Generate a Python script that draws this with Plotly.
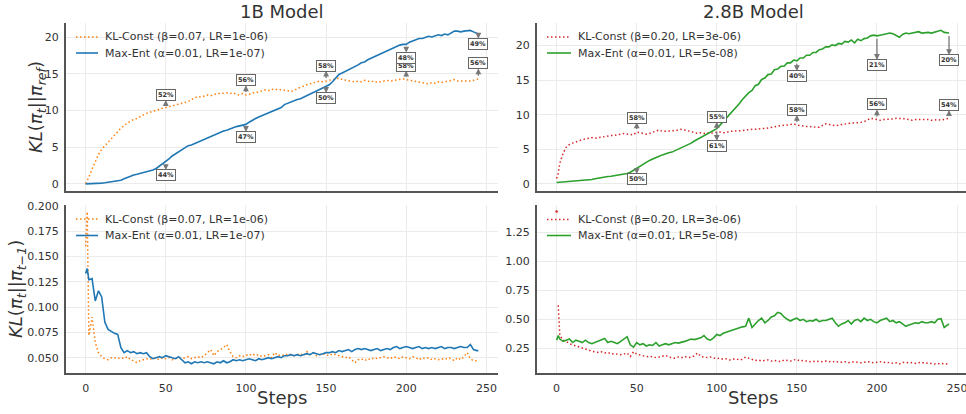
import plotly.graph_objects as go

# ---------------- data ----------------
STEPS = [0, 1] + list(range(2, 245, 2)) + [245]

# 1B model, KL(pi_t || pi_ref)
KL_REF_1B_CONST = [
    0.05, 0.4, 0.9, 2.0, 3.0, 4.0, 4.7, 5.2, 5.7, 6.2,
    6.7, 7.1, 7.6, 7.9, 8.3, 8.5, 8.8, 8.9, 9.2, 9.4,
    9.6, 9.8, 9.9, 10.0, 10.2, 10.3, 10.4, 10.5, 10.6, 10.8,
    10.8, 11.0, 11.1, 11.2, 11.5, 11.7, 11.9, 11.8, 12.0, 12.1,
    12.0, 12.2, 12.3, 12.3, 12.4, 12.4, 12.3, 12.4, 12.2, 12.1,
    12.3, 12.1, 12.2, 12.4, 12.4, 12.5, 12.6, 12.8, 12.7, 12.9,
    12.8, 12.9, 12.8, 12.8, 12.7, 12.6, 12.7, 13.0, 13.1, 13.3,
    13.5, 13.6, 13.8, 13.8, 14.0, 13.9, 14.0, 14.1, 14.3, 14.3,
    14.4, 14.2, 14.1, 14.0, 13.9, 13.9, 14.0, 13.9, 14.1, 14.0,
    13.9, 14.0, 13.8, 13.9, 14.0, 14.1, 14.0, 14.1, 14.2, 14.2,
    14.3, 14.2, 14.1, 14.0, 14.0, 13.9, 13.8, 13.7, 13.6, 13.8,
    13.7, 13.9, 13.8, 13.9, 14.0, 14.1, 14.2, 14.0, 14.0, 13.9,
    13.9, 14.0, 14.1, 14.2, 14.3,
]
KL_REF_1B_MAXENT = [
    0.0, 0.0, 0.0, 0.02, 0.05, 0.07, 0.1, 0.15, 0.2, 0.3,
    0.38, 0.45, 0.5, 0.7, 0.9, 1.05, 1.2, 1.3, 1.4, 1.5,
    1.6, 1.75, 1.9, 2.1, 2.4, 2.7, 3.05, 3.4, 3.8, 4.1,
    4.4, 4.7, 5.0, 5.2, 5.3, 5.5, 5.7, 5.8, 6.0, 6.2,
    6.4, 6.6, 6.8, 7.0, 7.2, 7.3, 7.5, 7.7, 7.8, 7.9,
    8.0, 8.1, 8.4, 8.7, 8.9, 9.1, 9.3, 9.5, 9.6, 9.8,
    10.0, 10.2, 10.4, 10.8, 11.0, 11.2, 11.3, 11.5, 11.6, 11.8,
    12.0, 12.2, 12.4, 12.6, 12.8, 13.0, 13.2, 13.5, 13.9, 14.4,
    14.9, 15.1, 15.3, 15.6, 15.8, 16.0, 16.2, 16.5, 16.6, 16.9,
    17.1, 17.3, 17.5, 17.8, 17.9, 18.2, 18.4, 18.6, 18.8, 18.9,
    19.0, 19.0, 19.3, 19.5, 19.7, 19.8, 19.8, 19.9, 20.1, 20.0,
    20.2, 20.3, 20.2, 20.4, 20.3, 20.5, 20.8, 20.8, 20.7, 20.8,
    20.8, 20.9, 20.7, 20.5, 20.4,
]

# 2.8B model, KL(pi_t || pi_ref)
KL_REF_28B_CONST = [
    0.8, 1.5, 3.0, 4.4, 5.3, 5.7, 5.9, 6.1, 6.2, 6.4,
    6.5, 6.6, 6.7, 6.6, 6.7, 6.8, 6.8, 6.9, 7.0, 7.0,
    7.1, 7.2, 7.3, 7.2, 7.1, 7.1, 7.5, 7.4, 7.2, 7.2,
    7.3, 7.5, 7.6, 7.8, 7.6, 7.6, 7.7, 7.6, 7.7, 7.8,
    7.9, 7.8, 7.7, 7.6, 7.5, 7.3, 7.4, 7.3, 7.4, 7.3,
    7.4, 7.5, 7.5, 7.4, 7.4, 7.6, 7.6, 7.7, 7.7, 7.7,
    7.8, 7.9, 7.9, 7.9, 8.0, 8.0, 8.0, 8.1, 8.2, 8.3,
    8.4, 8.4, 8.5, 8.5, 8.6, 8.7, 8.5, 8.4, 8.3, 8.3,
    8.3, 8.2, 8.2, 8.2, 8.4, 8.7, 8.6, 8.5, 8.4, 8.5,
    8.6, 8.6, 8.7, 8.8, 8.8, 8.8, 8.9, 9.0, 9.3, 9.5,
    9.4, 9.3, 9.2, 9.3, 9.3, 9.4, 9.4, 9.5, 9.5, 9.5,
    9.4, 9.3, 9.2, 9.3, 9.3, 9.4, 9.3, 9.3, 9.2, 9.3,
    9.3, 9.2, 9.3, 9.5, 9.5,
]
KL_REF_28B_MAXENT = [
    0.2, 0.22, 0.25, 0.28, 0.3, 0.33, 0.35, 0.38, 0.4, 0.43,
    0.47, 0.55, 0.65, 0.75, 0.85, 0.95, 1.02, 1.08, 1.12, 1.18,
    1.22, 1.3, 1.4, 1.5, 1.7, 2.0, 2.3, 2.6, 2.9, 3.1,
    3.4, 3.6, 3.85, 4.0, 4.2, 4.4, 4.5, 4.6, 4.8, 5.0,
    5.2, 5.4, 5.7, 5.9, 6.2, 6.45, 6.7, 6.95, 7.2, 7.4,
    7.7, 8.0, 8.5, 9.0, 9.5, 10.0, 10.6, 11.1, 11.6, 12.2,
    12.7, 13.2, 13.5, 14.2, 14.4, 15.1, 15.3, 15.8, 15.9, 16.5,
    16.6, 17.0, 17.0, 17.5, 17.5, 17.9, 17.8, 18.2, 18.2, 18.6,
    18.6, 19.0, 19.0, 19.4, 19.5, 19.8, 19.8, 20.1, 20.0, 20.3,
    20.2, 20.6, 20.5, 20.8, 20.4, 20.9, 20.7, 21.0, 21.1, 21.4,
    21.5, 21.4, 21.5, 21.6, 21.6, 21.8, 21.7, 21.5, 21.2, 21.6,
    21.8, 21.7, 21.8, 21.9, 22.0, 21.8, 21.9, 21.9, 21.8, 21.9,
    22.0, 22.2, 21.9, 21.8, 21.8,
]

# 1B model, KL(pi_t || pi_{t-1})
KL_PREV_1B_CONST = [
    0.160, 0.194, 0.072, 0.090, 0.065, 0.055, 0.051, 0.049, 0.048, 0.050,
    0.050, 0.049, 0.050, 0.049, 0.051, 0.048, 0.047, 0.045, 0.047, 0.048,
    0.049, 0.048, 0.050, 0.049, 0.048, 0.050, 0.049, 0.050, 0.048, 0.049,
    0.050, 0.049, 0.050, 0.051, 0.049, 0.050, 0.051, 0.050, 0.052, 0.055,
    0.058, 0.052, 0.056, 0.058, 0.060, 0.063, 0.056, 0.051, 0.050, 0.052,
    0.051, 0.053, 0.052, 0.054, 0.052, 0.053, 0.051, 0.052, 0.053, 0.050,
    0.055, 0.052, 0.053, 0.052, 0.054, 0.053, 0.052, 0.053, 0.054, 0.052,
    0.056, 0.053, 0.055, 0.052, 0.053, 0.054, 0.053, 0.052, 0.054, 0.053,
    0.052, 0.051, 0.050, 0.051, 0.048, 0.045, 0.048, 0.049, 0.047, 0.049,
    0.048, 0.050, 0.049, 0.050, 0.051, 0.050, 0.049, 0.051, 0.050, 0.049,
    0.051, 0.050, 0.049, 0.051, 0.050, 0.048, 0.050, 0.049, 0.050, 0.048,
    0.049, 0.048, 0.049, 0.048, 0.050, 0.049, 0.047, 0.050, 0.048, 0.051,
    0.055, 0.049, 0.047, 0.047, 0.047,
]
KL_PREV_1B_MAXENT = [
    0.133, 0.138, 0.127, 0.128, 0.106, 0.116, 0.110, 0.085, 0.078, 0.076,
    0.074, 0.073, 0.060, 0.055, 0.057, 0.055, 0.056, 0.054, 0.055, 0.054,
    0.055, 0.051, 0.049, 0.050, 0.051, 0.050, 0.052, 0.051, 0.050, 0.049,
    0.051, 0.048, 0.045, 0.046, 0.044, 0.046, 0.045, 0.046, 0.045, 0.046,
    0.045, 0.044, 0.046, 0.045, 0.047, 0.045, 0.046, 0.048, 0.047, 0.048,
    0.047, 0.048, 0.049, 0.048, 0.047, 0.049, 0.048, 0.049, 0.050, 0.049,
    0.050, 0.051, 0.050, 0.052, 0.052, 0.053, 0.052, 0.053, 0.052, 0.053,
    0.054, 0.053, 0.055, 0.054, 0.053, 0.054, 0.055, 0.055, 0.056, 0.055,
    0.057, 0.056, 0.057, 0.058, 0.056, 0.058, 0.059, 0.058, 0.059, 0.058,
    0.057, 0.058, 0.059, 0.057, 0.058, 0.059, 0.058, 0.060, 0.061, 0.059,
    0.060, 0.061, 0.060, 0.059, 0.060, 0.061, 0.059, 0.060, 0.059, 0.060,
    0.059, 0.060, 0.061, 0.059, 0.060, 0.060, 0.059, 0.060, 0.061, 0.060,
    0.060, 0.063, 0.058, 0.057, 0.057,
]

# 2.8B model, KL(pi_t || pi_{t-1})
KL_PREV_28B_CONST = [
    1.43, 0.62, 0.36, 0.32, 0.31, 0.29, 0.28, 0.27, 0.26, 0.25,
    0.24, 0.23, 0.225, 0.22, 0.215, 0.22, 0.21, 0.215, 0.20, 0.205,
    0.20, 0.195, 0.20, 0.21, 0.18, 0.22, 0.20, 0.19, 0.185, 0.18,
    0.175, 0.18, 0.17, 0.175, 0.18, 0.19, 0.175, 0.17, 0.165, 0.175,
    0.17, 0.18, 0.17, 0.175, 0.185, 0.21, 0.18, 0.175, 0.17, 0.175,
    0.165, 0.16, 0.165, 0.155, 0.16, 0.15, 0.155, 0.16, 0.15, 0.155,
    0.175, 0.165, 0.15, 0.145, 0.15, 0.14, 0.145, 0.15, 0.14, 0.145,
    0.14, 0.135, 0.15, 0.145, 0.14, 0.15, 0.155, 0.14, 0.145, 0.14,
    0.135, 0.14, 0.135, 0.14, 0.135, 0.14, 0.135, 0.14, 0.13, 0.135,
    0.13, 0.135, 0.125, 0.13, 0.135, 0.13, 0.125, 0.13, 0.135, 0.13,
    0.125, 0.13, 0.135, 0.13, 0.125, 0.13, 0.12, 0.125, 0.115, 0.13,
    0.125, 0.13, 0.125, 0.12, 0.125, 0.13, 0.12, 0.125, 0.12, 0.115,
    0.12, 0.115, 0.12, 0.115, 0.12,
]
KL_PREV_28B_MAXENT = [
    0.32, 0.36, 0.33, 0.31, 0.32, 0.33, 0.30, 0.32, 0.31, 0.30,
    0.32, 0.30, 0.29, 0.30, 0.31, 0.32, 0.335, 0.30, 0.31, 0.30,
    0.29, 0.31, 0.33, 0.35, 0.28, 0.26, 0.30, 0.28, 0.29, 0.27,
    0.28, 0.275, 0.30, 0.27, 0.28, 0.29, 0.28, 0.29, 0.30, 0.295,
    0.30, 0.31, 0.32, 0.33, 0.325, 0.33, 0.34, 0.36, 0.33, 0.32,
    0.34, 0.37, 0.36, 0.38, 0.39, 0.40, 0.41, 0.42, 0.43, 0.435,
    0.44, 0.51, 0.43, 0.46, 0.49, 0.51, 0.47, 0.49, 0.52, 0.53,
    0.56, 0.55, 0.52, 0.50, 0.485, 0.50, 0.51, 0.49, 0.50, 0.48,
    0.49, 0.485, 0.50, 0.48, 0.49, 0.49, 0.50, 0.51, 0.47, 0.44,
    0.46, 0.47, 0.49, 0.46, 0.49, 0.50, 0.48, 0.51, 0.49, 0.50,
    0.48, 0.47, 0.49, 0.50, 0.51, 0.48, 0.49, 0.47, 0.48, 0.46,
    0.44, 0.45, 0.46, 0.47, 0.465, 0.48, 0.47, 0.47, 0.48, 0.47,
    0.50, 0.505, 0.43, 0.45, 0.46,
]

LABEL_1B_CONST = "KL-Const (β=0.07, LR=1e-06)"
LABEL_1B_MAXENT = "Max-Ent (α=0.01, LR=1e-07)"
LABEL_28B_CONST = "KL-Const (β=0.20, LR=3e-06)"
LABEL_28B_MAXENT = "Max-Ent (α=0.01, LR=5e-08)"

# win-rate call-outs at these steps: label and the level of its box
ANN_STEPS = [50, 100, 150, 200, 245]
CALLOUT_1B_CONST = ["52%", "56%", "58%", "58%", "56%"]
CALLOUT_1B_CONST_BOX = [12.1, 14.1, 16.1, 16.1, 16.4]
CALLOUT_1B_MAXENT = ["44%", "47%", "50%", "48%", "49%"]
CALLOUT_1B_MAXENT_BOX = [1.2, 6.4, 11.7, 17.2, 19.1]
CALLOUT_28B_CONST = ["58%", "55%", "58%", "56%", "54%"]
CALLOUT_28B_CONST_BOX = [9.6, 9.7, 10.7, 11.5, 11.4]
CALLOUT_28B_MAXENT = ["50%", "61%", "40%", "21%", "20%"]
CALLOUT_28B_MAXENT_BOX = [0.7, 5.5, 15.6, 17.2, 17.9]

# ---------------- styling ----------------
BLUE = "#1f77b4"
ORANGE = "#ff7f0e"
GREEN = "#2ca02c"
RED = "#d62728"
FONT = "DejaVu Sans"
TXT = "#333333"
DOT = "1.5px,2.5px"
W, H = 966, 414

def px_x(p):
    return p / W

def px_y(p):
    return 1 - p / H

fig = go.Figure()

def add_line(x, y, color, name, xa, ya, dotted):
    fig.add_trace(go.Scatter(
        x=x, y=y, mode="lines", name=name,
        line=dict(color=color, width=1.5 if dotted else 1.6,
                  dash=DOT if dotted else "solid"),
        xaxis=xa, yaxis=ya, showlegend=False,
    ))

add_line(STEPS, KL_REF_1B_CONST, ORANGE, LABEL_1B_CONST, "x", "y", True)
add_line(STEPS, KL_REF_1B_MAXENT, BLUE, LABEL_1B_MAXENT, "x", "y", False)
add_line(STEPS, KL_REF_28B_CONST, RED, LABEL_28B_CONST, "x2", "y2", True)
add_line(STEPS, KL_REF_28B_MAXENT, GREEN, LABEL_28B_MAXENT, "x2", "y2", False)
add_line(STEPS, KL_PREV_1B_CONST, ORANGE, LABEL_1B_CONST, "x3", "y3", True)
add_line(STEPS, KL_PREV_1B_MAXENT, BLUE, LABEL_1B_MAXENT, "x3", "y3", False)
# the first 2.8B KL-Const point stands apart from the rest of its dotted line
add_line(STEPS[1:], KL_PREV_28B_CONST[1:], RED, LABEL_28B_CONST, "x4", "y4", True)
fig.add_trace(go.Scatter(
    x=STEPS[:1], y=KL_PREV_28B_CONST[:1], mode="markers", name=LABEL_28B_CONST,
    marker=dict(color=RED, size=2.5), xaxis="x4", yaxis="y4", showlegend=False,
))
add_line(STEPS, KL_PREV_28B_MAXENT, GREEN, LABEL_28B_MAXENT, "x4", "y4", False)

annotations = []
shapes = []

def callouts(series, labels, boxes, xref, yref):
    for step, lab, box in zip(ANN_STEPS, labels, boxes):
        cv = series[STEPS.index(step)]
        annotations.append(dict(
            x=step, y=box, xref=xref, yref=yref, ax=step, ay=cv,
            axref=xref, ayref=yref, text="", showarrow=True,
            arrowhead=2, arrowsize=0.9, arrowwidth=1.3, arrowcolor="#777777",
            standoff=5, startstandoff=1.5,
        ))
        annotations.append(dict(
            x=step, y=box, xref=xref, yref=yref, text="<b>" + lab + "</b>",
            showarrow=False, font=dict(family=FONT, size=6.5, color="#333333"),
            bgcolor="white", bordercolor="#666666", borderwidth=1, borderpad=1,
            xanchor="center", yanchor="middle",
        ))

callouts(KL_REF_1B_CONST, CALLOUT_1B_CONST, CALLOUT_1B_CONST_BOX, "x", "y")
callouts(KL_REF_1B_MAXENT, CALLOUT_1B_MAXENT, CALLOUT_1B_MAXENT_BOX, "x", "y")
callouts(KL_REF_28B_CONST, CALLOUT_28B_CONST, CALLOUT_28B_CONST_BOX, "x2", "y2")
callouts(KL_REF_28B_MAXENT, CALLOUT_28B_MAXENT, CALLOUT_28B_MAXENT_BOX, "x2", "y2")

def text(t, xp, yp, size, angle=0, xanchor="center"):
    annotations.append(dict(
        text=t, x=px_x(xp), y=px_y(yp), xref="paper", yref="paper",
        showarrow=False, textangle=angle, xanchor=xanchor, yanchor="middle",
        font=dict(family=FONT, size=size, color=TXT),
    ))

text("1B Model", 282, 11, 18)
text("2.8B Model", 753, 11, 18)
text("Steps", 282, 397, 18)
text("Steps", 753, 397, 18)
text("<i>KL</i>(<i>π<sub>t</sub></i>||<i>π<sub>ref</sub></i>)", 37, 107, 18, -90)
text("<i>KL</i>(<i>π<sub>t</sub></i>||<i>π<sub>t−1</sub></i>)", 17, 289, 18, -90)

def legend_entry(x0, x1, yp, color, dotted, label):
    shapes.append(dict(
        type="line", xref="paper", yref="paper",
        x0=px_x(x0), x1=px_x(x1), y0=px_y(yp), y1=px_y(yp),
        line=dict(color=color, width=1.5 if dotted else 1.6,
                  dash=DOT if dotted else "solid"),
    ))
    text(label, x1 + 5, yp, 11, xanchor="left")

legend_entry(76, 98, 37, ORANGE, True, LABEL_1B_CONST)
legend_entry(76, 98, 53, BLUE, False, LABEL_1B_MAXENT)
legend_entry(547, 571, 37, RED, True, LABEL_28B_CONST)
legend_entry(547, 571, 53, GREEN, False, LABEL_28B_MAXENT)
legend_entry(76, 98, 219, ORANGE, True, LABEL_1B_CONST)
legend_entry(76, 98, 235.5, BLUE, False, LABEL_1B_MAXENT)
legend_entry(547, 571, 219.5, RED, True, LABEL_28B_CONST)
legend_entry(547, 571, 235.5, GREEN, False, LABEL_28B_MAXENT)

XL = [px_x(66), px_x(498)]
XR = [px_x(537), 1.0]
YT = [px_y(191), px_y(22.7)]
YB = [px_y(372.7), px_y(205)]

def xaxis(domain, rng, anchor, labels):
    return dict(domain=domain, range=rng, anchor=anchor,
                tickvals=[0, 50, 100, 150, 200, 250], showticklabels=labels,
                ticklabeloverflow="allow",
                showgrid=True, gridcolor="#ebebeb", gridwidth=1, zeroline=False,
                showline=True, linecolor="#555555", linewidth=2.2,
                ticks="outside", ticklen=4, tickcolor="rgba(0,0,0,0)",
                tickfont=dict(family=FONT, size=11, color=TXT))

def yaxis(domain, rng, anchor, tickvals, fmt):
    return dict(domain=domain, range=rng, anchor=anchor, tickvals=tickvals,
                tickformat=fmt, showgrid=True, gridcolor="#ebebeb", gridwidth=1,
                zeroline=False, showline=True, linecolor="#555555", linewidth=2.2,
                ticks="outside", ticklen=3, tickcolor="rgba(0,0,0,0)",
                tickfont=dict(family=FONT, size=11, color=TXT))

fig.update_layout(
    width=W, height=H, margin=dict(l=0, r=0, t=0, b=0, autoexpand=False),
    paper_bgcolor="white", plot_bgcolor="white", showlegend=False,
    xaxis=xaxis(XL, [-12.25, 257.25], "y", False),
    yaxis=yaxis(YT, [-0.97, 21.95], "x", [0, 5, 10, 15, 20], "d"),
    xaxis2=xaxis(XR, [-12.25, 255.6], "y2", False),
    yaxis2=yaxis(YT, [-1.02, 23.3], "x2", [0, 5, 10, 15, 20], "d"),
    xaxis3=xaxis(XL, [-12.25, 257.25], "y3", True),
    yaxis3=yaxis(YB, [0.0352, 0.2007], "x3", [0.05, 0.075, 0.1, 0.125, 0.15, 0.175, 0.2], ".3f"),
    xaxis4=xaxis(XR, [-12.25, 255.6], "y4", True),
    yaxis4=yaxis(YB, [0.04, 1.485], "x4", [0.25, 0.5, 0.75, 1.0, 1.25], ".2f"),
    annotations=annotations,
    shapes=shapes,
)

fig.write_html(
    "out.html",
    config={"displayModeBar": False},
    post_script="document.body.style.margin='0';document.body.style.overflow='hidden';",
)
